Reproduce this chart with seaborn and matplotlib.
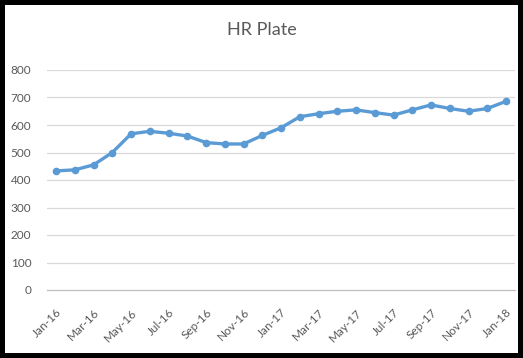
import matplotlib
matplotlib.use("Agg")
import matplotlib.pyplot as plt
import seaborn as sns
import pandas as pd

months = ["Jan-16", "Feb-16", "Mar-16", "Apr-16", "May-16", "Jun-16", "Jul-16", "Aug-16",
          "Sep-16", "Oct-16", "Nov-16", "Dec-16", "Jan-17", "Feb-17", "Mar-17", "Apr-17",
          "May-17", "Jun-17", "Jul-17", "Aug-17", "Sep-17", "Oct-17", "Nov-17", "Dec-17", "Jan-18"]
values = [433, 437, 455, 500, 568, 577, 570, 560, 536, 531, 531, 562,
          590, 630, 641, 650, 655, 645, 636, 655, 673, 660, 650, 660, 686]
yticks = [0, 100, 200, 300, 400, 500, 600, 700, 800]

sns.set_theme(style="white")
plt.rcParams['font.family'] = ['Lato', 'DejaVu Sans']

df = pd.DataFrame({"month": months, "value": values, "pos": range(len(months))})

fig = plt.figure(figsize=(5.23, 3.58), dpi=100, facecolor="black")
bg = fig.add_axes([5/523, 5/358, (518-5)/523, (353-5)/358], zorder=-5)
bg.set_facecolor("white")
bg.set_xticks([]); bg.set_yticks([])
for s in bg.spines.values():
    s.set_visible(False)

ax = fig.add_axes([46.7/523, 1-290/358, (515.4-46.7)/523, 220/358], zorder=1)
ax.set_facecolor("none")

sns.lineplot(data=df, x="pos", y="value", ax=ax, color="#5B9BD5", linewidth=2.4,
             marker="o", markersize=5.5, markeredgewidth=0, markeredgecolor="#5B9BD5",
             zorder=3)

ax.set_xlim(-0.5, len(months) - 0.5)
ax.set_ylim(0, 800)
ax.set_yticks(yticks)
ax.set_yticklabels([str(v) for v in yticks])
for y in yticks[1:]:
    ax.axhline(y, color="#D9D9D9", linewidth=0.9, zorder=1)

lab_pos = list(range(0, len(months), 2))
ax.set_xticks(lab_pos)
ax.set_xticklabels([months[i] for i in lab_pos], rotation=45, ha="right",
                   rotation_mode="anchor")
ax.set_xticks([p - 0.5 for p in range(0, len(months), 2)], minor=True)
ax.tick_params(axis="x", which="major", length=0, pad=12, labelsize=8.5, labelcolor="#595959")
ax.tick_params(axis="x", which="minor", length=5, width=0.9, color="#BFBFBF", direction="out")
ax.tick_params(axis="y", length=0, pad=11, labelsize=8.5, labelcolor="#595959")

for s in ["top", "right", "left"]:
    ax.spines[s].set_visible(False)
ax.spines["bottom"].set_color("#BFBFBF")
ax.spines["bottom"].set_linewidth(0.9)
ax.set_xlabel("")
ax.set_ylabel("")

fig.text(262/523, 1-35/358, "HR Plate", ha="center", va="baseline", fontsize=13,
         color="#595959")

fig.savefig("out.png", dpi=100, facecolor=fig.get_facecolor())
